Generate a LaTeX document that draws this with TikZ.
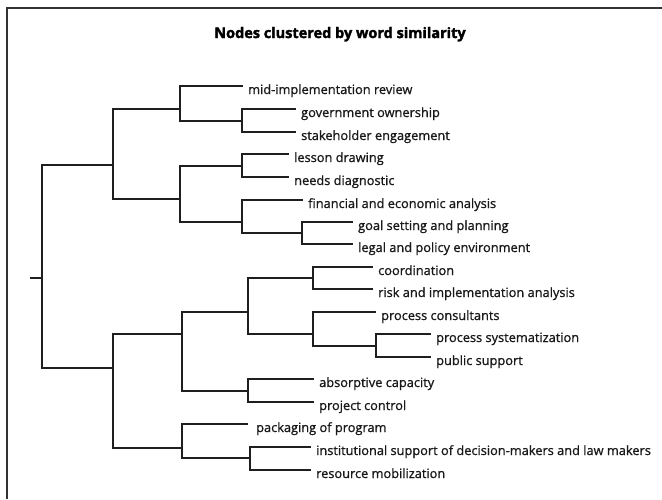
\documentclass[tikz,border=0pt]{standalone}
\usepackage{fontspec}
\setmainfont{Open Sans}
\newfontfamily\leaffont{Open Sans}[FakeBold=1.0]
\newfontfamily\headfont{Open Sans}[BoldFeatures={FakeBold=2.2}]
\usepackage{tikz}
\usetikzlibrary{positioning}

\begin{document}
\begin{tikzpicture}[
  x=1pt, y=-1pt,
  branch/.style={line width=1.6pt, draw=black!88, line cap=rect},
  leaf/.style={anchor=base west, inner sep=0pt, xshift=6pt, yshift=-8pt,
    font=\leaffont\fontsize{12.8}{15}\selectfont, text=black!90},
  heading/.style={anchor=base, inner sep=0pt,
    font=\headfont\fontsize{14.5}{17}\selectfont\bfseries, text=black},
  frame/.style={line width=2.2pt, draw=black!80}
]
\useasboundingbox (0,0) rectangle (662,499);
\draw[frame] (7,499) -- (7,8) -- (662,8);
\node[heading] (title) at (340,38) {Nodes clustered by word similarity};

% junctions
\coordinate (stub) at (31,278);
\coordinate (root) at (42,278);
\coordinate (a) at (113,165);
\coordinate (b) at (113,368);
\coordinate (a1) at (180,109);
\coordinate (a2) at (180,199);
\coordinate (a12) at (242,121);
\coordinate (a21) at (242,166);
\coordinate (a22) at (242,222);
\coordinate (a222) at (302,233);
\coordinate (b1) at (182,334);
\coordinate (b2) at (182,448);
\coordinate (b11) at (248,312);
\coordinate (b12) at (248,391);
\coordinate (b111) at (313,278);
\coordinate (b112) at (313,334);
\coordinate (b1122) at (376,346);
\coordinate (b22) at (250,458);

% leaves
\coordinate (review) at (242,86);
\coordinate (ownership) at (295,109);
\coordinate (engagement) at (295,132);
\coordinate (lesson) at (288,154);
\coordinate (needs) at (288,177);
\coordinate (finance) at (302,200);
\coordinate (goals) at (352,222);
\coordinate (legal) at (352,244);
\coordinate (coord) at (372,267);
\coordinate (risk) at (372,289);
\coordinate (consult) at (375,312);
\coordinate (system) at (430,334);
\coordinate (support) at (430,357);
\coordinate (absorb) at (313,379);
\coordinate (control) at (313,402);
\coordinate (packaging) at (247,424);
\coordinate (instit) at (310,447);
\coordinate (resource) at (310,470);

\node[leaf] (treview) at (review) {mid-implementation review};
\node[leaf] (townership) at (ownership) {government ownership};
\node[leaf] (tengagement) at (engagement) {stakeholder engagement};
\node[leaf] (tlesson) at (lesson) {lesson drawing};
\node[leaf] (tneeds) at (needs) {needs diagnostic};
\node[leaf] (tfinance) at (finance) {financial and economic analysis};
\node[leaf] (tgoals) at (goals) {goal setting and planning};
\node[leaf] (tlegal) at (legal) {legal and policy environment};
\node[leaf] (tcoord) at (coord) {coordination};
\node[leaf] (trisk) at (risk) {risk and implementation analysis};
\node[leaf] (tconsult) at (consult) {process consultants};
\node[leaf] (tsystem) at (system) {process systematization};
\node[leaf] (tsupport) at (support) {public support};
\node[leaf] (tabsorb) at (absorb) {absorptive capacity};
\node[leaf] (tcontrol) at (control) {project control};
\node[leaf, xshift=3pt] (tpackaging) at (packaging) {packaging of program};
\node[leaf] (tinstit) at (instit) {institutional support of decision-makers and law makers};
\node[leaf] (tresource) at (resource) {resource mobilization};

% branches
\draw[branch] (stub) -- (root);
\draw[branch] (root) |- (a);
\draw[branch] (root) |- (b);
\draw[branch] (a) |- (a1);
\draw[branch] (a) |- (a2);
\draw[branch] (a1) |- (review);
\draw[branch] (a1) |- (a12);
\draw[branch] (a12) |- (ownership);
\draw[branch] (a12) |- (engagement);
\draw[branch] (a2) |- (a21);
\draw[branch] (a2) |- (a22);
\draw[branch] (a21) |- (lesson);
\draw[branch] (a21) |- (needs);
\draw[branch] (a22) |- (finance);
\draw[branch] (a22) |- (a222);
\draw[branch] (a222) |- (goals);
\draw[branch] (a222) |- (legal);
\draw[branch] (b) |- (b1);
\draw[branch] (b) |- (b2);
\draw[branch] (b1) |- (b11);
\draw[branch] (b1) |- (b12);
\draw[branch] (b11) |- (b111);
\draw[branch] (b11) |- (b112);
\draw[branch] (b111) |- (coord);
\draw[branch] (b111) |- (risk);
\draw[branch] (b112) |- (consult);
\draw[branch] (b112) |- (b1122);
\draw[branch] (b1122) |- (system);
\draw[branch] (b1122) |- (support);
\draw[branch] (b12) |- (absorb);
\draw[branch] (b12) |- (control);
\draw[branch] (b2) |- (packaging);
\draw[branch] (b2) |- (b22);
\draw[branch] (b22) |- (instit);
\draw[branch] (b22) |- (resource);
\end{tikzpicture}
\end{document}
